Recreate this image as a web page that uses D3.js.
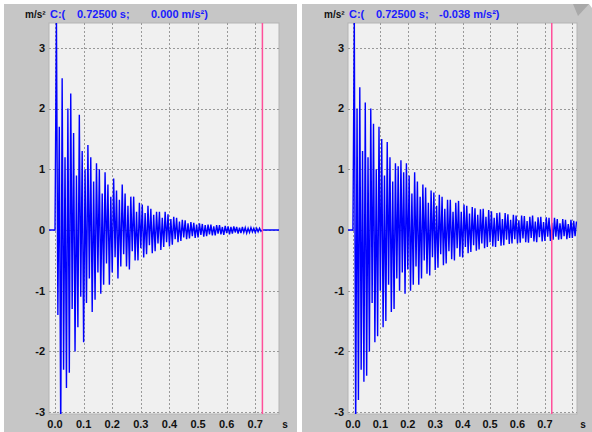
<!DOCTYPE html>
<html>
<head>
<meta charset="utf-8">
<script src="https://cdn.jsdelivr.net/npm/d3@7"></script>
<style>
  body { margin: 0; background: #fff; }
  text { font-family: "Liberation Sans", Arial, sans-serif; font-weight: bold; }
</style>
</head>
<body>
<div id="chart"></div>
<script>
const width = 592;
const height = 432;

// Sample spacing of the peak readings (s)
const timeStep = 0.005;

// Peak accelerations, one every 5 ms from t = 0
const leftSignal = [
  0, 3.5, -1.4, 1.7, -3.4, 2.5, -2.3, 1.2, -2.6, 2.0,
  -2.35, 2.25, -1.3, 1.6, -2.0, 0.9, -1.6, 1.9, -1.1, 1.3,
  -1.85, 1.0, -1.2, 1.4, -0.8, 1.2, -1.35, 0.8, -1.15, 1.1,
  -0.7, 1.0, -1.05, 0.6, -0.9, 0.95, -0.55, 0.75, -0.9, 0.55,
  -0.7, 0.85, -0.45, 0.65, -0.8, 0.5, -0.6, 0.75, -0.4, 0.6,
  -0.6, 0.4, -0.65, 0.55, -0.35, 0.55, -0.5, 0.3, -0.5, 0.45,
  -0.3, 0.42, -0.45, 0.28, -0.4, 0.4, -0.25, 0.35, -0.38, 0.25,
  -0.35, 0.3, -0.22, 0.3, -0.33, 0.2, -0.28, 0.3, -0.2, 0.26,
  -0.27, 0.18, -0.24, 0.22, -0.15, 0.2, -0.2, 0.14, -0.18, 0.17,
  -0.12, 0.16, -0.15, 0.11, -0.14, 0.13, -0.1, 0.12, -0.13, 0.09,
  -0.12, 0.11, -0.08, 0.1, -0.11, 0.08, -0.1, 0.09, -0.07, 0.09,
  -0.09, 0.06, -0.09, 0.08, -0.06, 0.08, -0.07, 0.05, -0.08, 0.07,
  -0.05, 0.06, -0.07, 0.05, -0.06, 0.06, -0.04, 0.05, -0.06, 0.04,
  -0.05, 0.05, -0.04, 0.04, -0.05, 0.03, -0.04, 0.04, -0.03, 0.03,
  -0.04, 0.03, -0.03, 0.03, -0.02, 0,
];

// Peak accelerations
const rightSignal = [
  0, 3.5, -3.4, 2.0, -2.8, 2.35, -2.3, 1.3, -2.5, 2.1,
  -2.4, 1.2, -2.0, 2.0, -1.2, 1.75, -1.85, 1.0, -1.75, 1.7,
  -1.0, 1.5, -1.6, 0.9, -1.5, 1.45, -0.9, 1.2, -1.35, 0.8,
  -1.3, 1.1, -0.8, 1.05, -1.0, 1.15, -0.7, 0.95, -1.05, 1.1,
  -0.65, 0.9, -1.0, 0.6, -0.9, 0.95, -0.6, 0.8, -0.9, 0.55,
  -0.8, 0.75, -0.5, 0.7, -0.72, 0.45, -0.75, 0.65, -0.45, 0.62,
  -0.66, 0.4, -0.62, 0.58, -0.4, 0.55, -0.58, 0.35, -0.55, 0.5,
  -0.35, 0.5, -0.48, 0.3, -0.5, 0.45, -0.3, 0.48, -0.44, 0.3,
  -0.45, 0.42, -0.28, 0.4, -0.38, 0.27, -0.36, 0.38, -0.25, 0.36,
  -0.34, 0.25, -0.32, 0.34, -0.22, 0.35, -0.3, 0.22, -0.28, 0.33,
  -0.2, 0.31, -0.27, 0.2, -0.28, 0.28, -0.18, 0.29, -0.26, 0.18,
  -0.25, 0.28, -0.16, 0.26, -0.23, 0.17, -0.22, 0.25, -0.15, 0.24,
  -0.22, 0.16, -0.21, 0.24, -0.14, 0.23, -0.2, 0.15, -0.21, 0.22,
  -0.13, 0.24, -0.19, 0.14, -0.2, 0.21, -0.12, 0.22, -0.19, 0.13,
  -0.18, 0.21, -0.11, 0.2, -0.18, 0.12, -0.16, 0.2, -0.11, 0.18,
  -0.16, 0.11, -0.15, 0.18, -0.1, 0.17, -0.15, 0.1, -0.13, 0.17,
  -0.13, 0.15, -0.1, 0.14,
];

const yTicks = [-3, -2, -1, 0, 1, 2, 3];
const xTickLabels = ["0.0", "0.1", "0.2", "0.3", "0.4", "0.5", "0.6", "0.7"];
const xGridLeft = [0, 0.1, 0.2, 0.3, 0.4, 0.5, 0.6, 0.7];
const xGridRight = [0, 0.1, 0.2, 0.3, 0.4, 0.5, 0.6, 0.7, 0.8];
const yDomain = [-3.03, 3.41];
const cursorTime = 0.725;
const cursorValues = ["0.000", "-0.038"];
const unitLabel = "m/s²";

const panels = [
  {
    signal: leftSignal, grid: xGridLeft, domain: [-0.021, 0.783], reading: cursorValues[0],
    box: { x: 4, w: 293 }, plot: { x: 49, w: 230 }, flatTail: true,
  },
  {
    signal: rightSignal, grid: xGridRight, domain: [-0.018, 0.817], reading: cursorValues[1],
    box: { x: 302, w: 290 }, plot: { x: 348, w: 229 }, flatTail: false,
  },
];

const plotTop = 23;
const plotBottom = 414;

const svg = d3
  .select("#chart")
  .append("svg")
  .attr("width", width)
  .attr("height", height);

svg.append("rect").attr("width", width).attr("height", height).attr("fill", "#fff");

const yScale = d3.scaleLinear().domain(yDomain).range([plotBottom, plotTop]);

panels.forEach((p, k) => {
  const g = svg.append("g");

  // Gray window background
  g.append("rect")
    .attr("x", p.box.x)
    .attr("y", 4)
    .attr("width", p.box.w)
    .attr("height", height - 4)
    .attr("fill", "#c6c6c6");

  const xScale = d3
    .scaleLinear()
    .domain(p.domain)
    .range([p.plot.x, p.plot.x + p.plot.w]);

  // Plot area
  g.append("rect")
    .attr("x", p.plot.x)
    .attr("y", plotTop)
    .attr("width", p.plot.w)
    .attr("height", plotBottom - plotTop)
    .attr("fill", "#f0f0f0")
    .attr("stroke", "#b4b4b4")
    .attr("stroke-width", 1);

  // Dotted grid
  g.selectAll(".hgrid")
    .data(yTicks)
    .enter()
    .append("line")
    .attr("x1", p.plot.x)
    .attr("x2", p.plot.x + p.plot.w)
    .attr("y1", (d) => Math.round(yScale(d)) + 0.5)
    .attr("y2", (d) => Math.round(yScale(d)) + 0.5)
    .attr("stroke", "#999")
    .attr("stroke-dasharray", "2,2");

  g.selectAll(".vgrid")
    .data(p.grid)
    .enter()
    .append("line")
    .attr("x1", (d) => Math.round(xScale(d)) + 0.5)
    .attr("x2", (d) => Math.round(xScale(d)) + 0.5)
    .attr("y1", plotTop)
    .attr("y2", plotBottom)
    .attr("stroke", "#999")
    .attr("stroke-dasharray", "2,2");

  // Signal trace
  const clipId = `clip-${k}`;
  g.append("clipPath")
    .attr("id", clipId)
    .append("rect")
    .attr("x", p.plot.x)
    .attr("y", plotTop)
    .attr("width", p.plot.w)
    .attr("height", plotBottom - plotTop);

  const points = [[p.domain[0], 0]].concat(
    p.signal.map((v, i) => [i * timeStep, v])
  );
  if (p.flatTail) points.push([p.domain[1], 0]);

  const line = d3
    .line()
    .x((d) => xScale(d[0]))
    .y((d) => yScale(d[1]));

  g.append("path")
    .datum(points)
    .attr("clip-path", `url(#${clipId})`)
    .attr("d", line)
    .attr("fill", "none")
    .attr("stroke", "#0000ff")
    .attr("stroke-width", 1.4)
    .attr("stroke-linejoin", "miter");

  // Cursor
  g.append("line")
    .attr("x1", xScale(cursorTime))
    .attr("x2", xScale(cursorTime))
    .attr("y1", plotTop)
    .attr("y2", plotBottom)
    .attr("stroke", "#ff4f9a")
    .attr("stroke-width", 1.5);

  // Axis labels
  g.selectAll(".ylab")
    .data(yTicks)
    .enter()
    .append("text")
    .attr("x", p.plot.x - 4)
    .attr("y", (d) => yScale(d))
    .attr("dy", "0.35em")
    .attr("text-anchor", "end")
    .attr("font-size", 11)
    .attr("fill", "#111")
    .text((d) => d);

  g.selectAll(".xlab")
    .data(xTickLabels)
    .enter()
    .append("text")
    .attr("x", (d) => xScale(+d))
    .attr("y", 428)
    .attr("text-anchor", "middle")
    .attr("font-size", 11)
    .attr("fill", "#111")
    .text((d) => d);

  g.append("text")
    .attr("x", p.plot.x + p.plot.w + 6)
    .attr("y", 428)
    .attr("text-anchor", "middle")
    .attr("font-size", 10)
    .attr("fill", "#111")
    .text("s");

  // Cursor readout header
  const hx = p.plot.x;
  g.append("text")
    .attr("x", hx - 24)
    .attr("y", 18)
    .attr("font-size", 10)
    .attr("fill", "#111")
    .text(unitLabel);

  g.append("text")
    .attr("x", hx + 1)
    .attr("y", 18)
    .attr("font-size", 11)
    .attr("fill", "#1a1aff")
    .text("C:(");

  g.append("text")
    .attr("x", hx + 28)
    .attr("y", 18)
    .attr("font-size", 11)
    .attr("fill", "#1a1aff")
    .text(`${cursorTime.toFixed(5)} s;`);

  g.append("text")
    .attr("x", hx + 102 - (p.reading.startsWith("-") ? 11 : 0))
    .attr("y", 18)
    .attr("font-size", 11)
    .attr("fill", "#1a1aff")
    .text(`${p.reading} ${unitLabel})`);
});

// Page curl in the top right corner
svg.append("polygon")
  .attr("points", "573,4 592,4 592,0 573,0")
  .attr("fill", "#fff");
svg.append("polygon")
  .attr("points", "573,4 589,4 578,16")
  .attr("fill", "#a9a9a9");
svg.append("polygon")
  .attr("points", "589,4 592,4 592,8")
  .attr("fill", "#fff");
</script>
</body>
</html>
